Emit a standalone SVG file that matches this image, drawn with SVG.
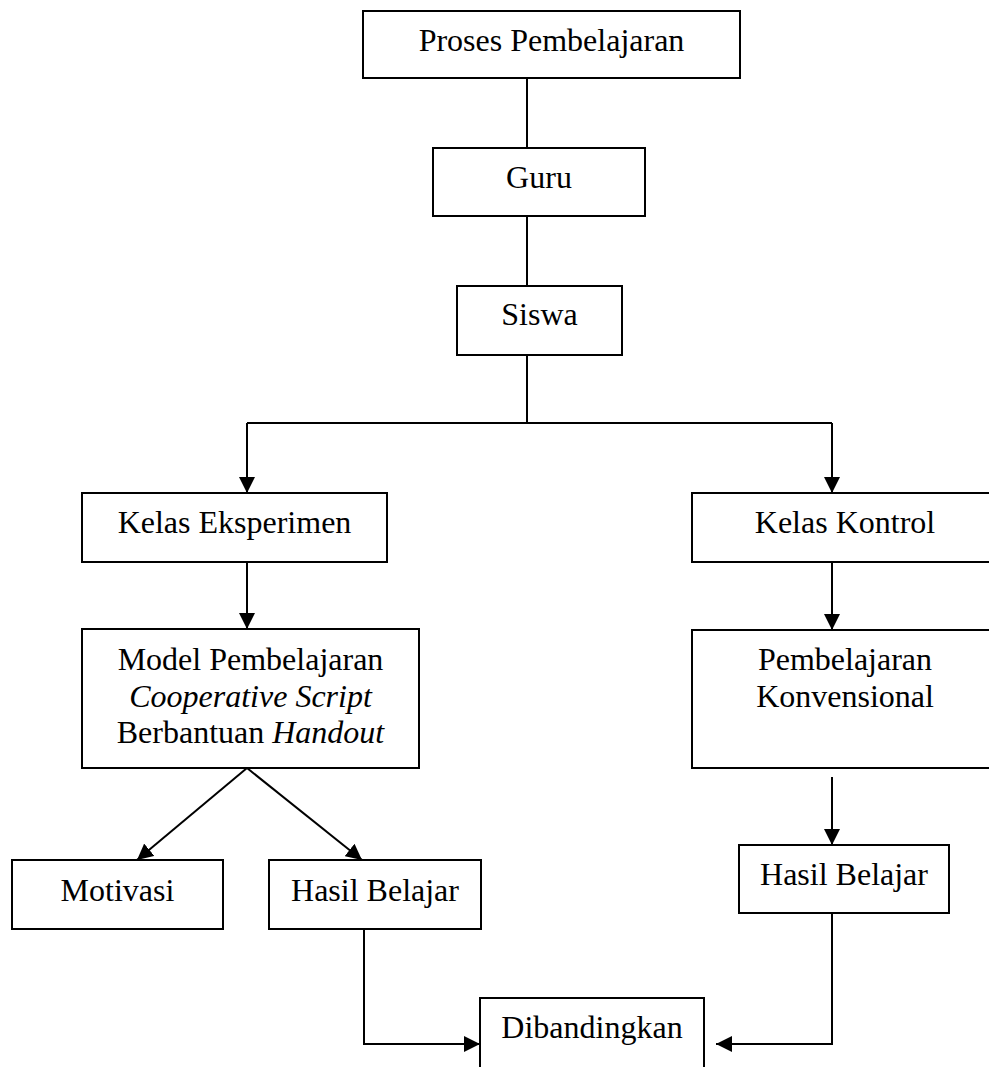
<svg xmlns="http://www.w3.org/2000/svg" width="989" height="1067" viewBox="0 0 989 1067">
<style>
.box{fill:#fff;stroke:#000;stroke-width:2}
.t{font-family:"Liberation Serif","Times New Roman",serif;font-size:32px;fill:#000;text-anchor:middle}
.i{font-style:italic}
.ln{fill:none;stroke:#000;stroke-width:2}
.ar{fill:none;stroke:#000;stroke-width:2;marker-end:url(#ah)}
</style>
<defs>
<marker id="ah" viewBox="0 0 16 16" refX="16" refY="8" markerWidth="16" markerHeight="16" markerUnits="userSpaceOnUse" orient="auto">
<path d="M0,0 L16,8 L0,16 Z" fill="#000"/>
</marker>
</defs>
<rect width="989" height="1067" fill="#fff"/>
<g id="connectors">
<line class="ln" x1="527" y1="78" x2="527" y2="148"/>
<line class="ln" x1="527" y1="216" x2="527" y2="286"/>
<polyline class="ln" points="527,355 527,423"/>
<polyline class="ln" points="247,423 832,423"/>
<polyline class="ar" points="247,423 247,493"/>
<polyline class="ar" points="832,423 832,493"/>
<line class="ar" x1="247" y1="562" x2="247" y2="629"/>
<line class="ar" x1="832" y1="562" x2="832" y2="630"/>
<line class="ar" x1="247" y1="768" x2="137" y2="860"/>
<line class="ar" x1="247" y1="768" x2="362" y2="860"/>
<line class="ar" x1="832" y1="777" x2="832" y2="845"/>
<polyline class="ar" points="364,929 364,1044 480,1044"/>
<polyline class="ar" points="832,913 832,1044 716,1044"/>
</g>
<g id="proses">
<rect class="box" x="363" y="11" width="377" height="67"/>
<text class="t" x="551.5" y="51">Proses Pembelajaran</text>
</g>
<g id="guru">
<rect class="box" x="433" y="148" width="212" height="68"/>
<text class="t" x="539" y="188">Guru</text>
</g>
<g id="siswa">
<rect class="box" x="457" y="286" width="165" height="69"/>
<text class="t" x="539.5" y="325">Siswa</text>
</g>
<g id="kelas-eksperimen">
<rect class="box" x="82" y="493" width="305" height="69"/>
<text class="t" x="234.5" y="533">Kelas Eksperimen</text>
</g>
<g id="kelas-kontrol">
<rect class="box" x="692" y="493" width="310" height="69"/>
<text class="t" x="845" y="533">Kelas Kontrol</text>
</g>
<g id="model">
<rect class="box" x="82" y="629" width="337" height="139"/>
<text class="t" x="250.5" y="670">Model Pembelajaran</text>
<text class="t i" x="250.5" y="707">Cooperative Script</text>
<text class="t" x="250.5" y="743">Berbantuan <tspan class="i">Handout</tspan></text>
</g>
<g id="konvensional">
<rect class="box" x="692" y="630" width="310" height="138"/>
<text class="t" x="845" y="670">Pembelajaran</text>
<text class="t" x="845" y="707">Konvensional</text>
</g>
<g id="motivasi">
<rect class="box" x="12" y="860" width="211" height="69"/>
<text class="t" x="117.5" y="901">Motivasi</text>
</g>
<g id="hasil-eksperimen">
<rect class="box" x="269" y="860" width="212" height="69"/>
<text class="t" x="375" y="901">Hasil Belajar</text>
</g>
<g id="hasil-kontrol">
<rect class="box" x="739" y="845" width="210" height="68"/>
<text class="t" x="844" y="885">Hasil Belajar</text>
</g>
<g id="dibandingkan">
<rect class="box" x="480" y="998" width="224" height="80"/>
<text class="t" x="592" y="1038">Dibandingkan</text>
</g>
</svg>
